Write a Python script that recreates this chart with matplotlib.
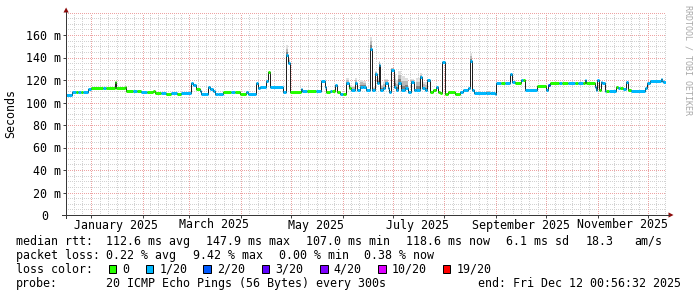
import numpy as np
import matplotlib
matplotlib.use("Agg")
import matplotlib.pyplot as plt
import matplotlib.dates as mdates
from matplotlib.patches import Rectangle, Polygon
from matplotlib.lines import Line2D
from matplotlib.transforms import ScaledTranslation
import datetime as dt

# ---------------- data ----------------
# start of each step, in days since 2025-01-01
seg_day = [-15.0, -11.4, -9.0, -7.8, -6.0, -4.8, -1.8, 0.0, 7.2, 9.0,
           14.4, 15.3, 20.4, 21.3, 25.2, 27.6, 30.0, 33.6, 37.2, 38.4,
           42.0, 45.0, 48.0, 51.6, 54.0, 60.2, 61.2, 62.8, 65.2, 66.2,
           70.2, 71.6, 73.2, 74.2, 76.2, 79.2, 84.0, 86.4, 89.2, 93.2,
           94.2, 98.8, 100.2, 101.4, 105.2, 106.2, 107.6, 115.2, 116.8, 118.2,
           119.6, 125.8, 126.8, 129.6, 135.0, 138.2, 140.2, 141.2, 143.2, 144.6,
           146.2, 147.6, 149.2, 151.2, 153.2, 154.8, 156.2, 158.2, 159.6, 161.2,
           163.2, 165.2, 167.2, 168.4, 170.2, 171.6, 172.6, 173.4, 175.2, 176.2,
           178.2, 178.8, 180.2, 181.6, 183.2, 184.2, 186.2, 188.2, 190.2, 192.2,
           193.6, 195.2, 197.2, 198.8, 200.2, 201.6, 203.2, 205.2, 207.2, 208.2,
           209.6, 210.8, 212.2, 214.2, 218.2, 221.2, 223.2, 226.2, 227.6, 228.8,
           229.8, 237.0, 239.4, 242.2, 243.2, 246.0, 248.4, 251.2, 252.4, 254.2,
           258.2, 259.2, 260.7, 267.6, 273.2, 274.2, 275.6, 280.8, 282.6, 286.2,
           290.2, 292.2, 295.2, 296.2, 297.2, 302.2, 303.2, 303.8, 304.8, 305.8,
           306.8, 308.2, 308.8, 310.8, 315.2, 316.2, 317.4, 319.2, 321.2, 322.4,
           324.2, 332.2, 333.6, 335.6, 342.0, 342.9, 343.2]
# median rtt (ms) of each step
median_ms = [107.0, 109.0, 109.6, 109.6, 109.6, 109.6, 111.7, 113.2, 113.2, 113.2,
             118.5, 113.0, 114.0, 110.5, 110.5, 110.5, 109.0, 109.0, 110.5, 108.7,
             108.7, 108.0, 108.5, 108.0, 108.5, 117.0, 116.0, 112.3, 110.0, 107.5,
             114.0, 112.2, 110.0, 108.0, 107.5, 109.0, 109.0, 109.0, 107.5, 109.0,
             108.0, 117.0, 112.5, 114.0, 119.4, 127.4, 114.0, 109.6, 142.0, 134.8,
             109.0, 112.4, 110.2, 110.2, 110.2, 119.4, 114.0, 109.0, 110.5, 110.5,
             116.0, 109.6, 108.0, 108.0, 117.0, 112.5, 111.0, 117.0, 111.0, 114.0,
             114.0, 111.0, 147.9, 111.0, 125.0, 117.3, 133.5, 111.0, 112.5, 117.3,
             112.5, 109.6, 129.3, 114.0, 111.0, 117.3, 111.0, 112.5, 109.6, 118.0,
             111.0, 111.0, 122.5, 112.5, 111.0, 120.0, 109.6, 111.0, 114.0, 109.6,
             108.4, 136.3, 108.0, 109.6, 108.0, 109.6, 111.0, 112.5, 137.0, 111.0,
             108.7, 108.7, 108.7, 108.0, 117.6, 117.6, 117.6, 125.3, 118.5, 117.3,
             120.0, 120.0, 111.0, 114.7, 111.0, 115.5, 117.6, 117.6, 117.6, 117.6,
             117.6, 117.6, 117.6, 120.3, 117.6, 114.0, 111.0, 120.3, 111.0, 118.5,
             117.6, 110.5, 110.5, 110.5, 114.0, 112.5, 112.5, 111.6, 118.5, 111.0,
             110.5, 113.0, 117.6, 119.4, 120.8, 119.4, 118.6]
# packet loss bucket of each step: 0 -> 0, 1 -> 1/20, 2 -> 2/20
loss_idx = [1, 1, 0, 1, 0, 1, 1, 0, 1, 0,
            0, 0, 0, 0, 1, 0, 1, 0, 0, 0,
            1, 0, 1, 0, 1, 1, 1, 0, 1, 1,
            1, 1, 1, 1, 1, 0, 1, 0, 0, 1,
            1, 1, 1, 1, 1, 0, 1, 1, 1, 1,
            0, 1, 1, 0, 1, 1, 1, 0, 1, 0,
            1, 0, 1, 0, 1, 0, 1, 1, 1, 1,
            1, 1, 1, 1, 1, 1, 1, 1, 1, 1,
            1, 1, 1, 1, 1, 1, 1, 1, 1, 1,
            1, 1, 1, 1, 1, 1, 0, 0, 1, 0,
            0, 1, 0, 0, 0, 1, 1, 1, 1, 1,
            1, 1, 1, 1, 1, 0, 1, 1, 1, 0,
            1, 0, 1, 0, 1, 2, 0, 1, 0, 1,
            0, 1, 0, 1, 0, 1, 1, 1, 0, 1,
            1, 1, 0, 1, 0, 1, 0, 1, 1, 0,
            1, 1, 1, 1, 1, 1, 1]
# top of the ping "smoke" (ms); 0 = no visible spread
smoke_top_ms = [0, 0, 0, 0, 0, 0, 0, 0, 0, 0,
                0, 0, 0, 0, 0, 0, 0, 0, 0, 0,
                0, 0, 0, 0, 0, 0, 0, 0, 0, 0,
                0, 0, 0, 0, 0, 0, 0, 0, 0, 0,
                0, 0, 0, 0, 0, 0, 0, 0, 151, 140,
                0, 0, 0, 0, 0, 0, 0, 0, 0, 0,
                0, 0, 0, 0, 122, 116, 115, 122, 0, 120,
                119, 0, 158, 114, 128, 122, 137, 116, 118, 121,
                118, 0, 131, 125, 120, 128, 124, 122, 0, 121,
                0, 122, 126, 118, 118, 121, 0, 0, 0, 0,
                0, 0, 0, 0, 0, 0, 0, 0, 143.7, 0,
                0, 110.5, 0, 0, 0, 0, 0, 0, 0, 0,
                0, 0, 0, 0, 0, 0, 0, 0, 0, 0,
                0, 0, 0, 0, 0, 0, 0, 0, 0, 0,
                0, 0, 0, 0, 0, 0, 0, 0, 0, 0,
                0, 0, 0, 0, 0, 0, 0]

graph_end = dt.datetime(2025, 12, 12, 0, 56, 32)
graph_days = 360
y_ticks = [0, 20, 40, 60, 80, 100, 120, 140, 160]
y_tick_labels = ["0", "20 m", "40 m", "60 m", "80 m", "100 m", "120 m", "140 m", "160 m"]
x_label_dates = [dt.datetime(2025, m, 16) for m in (1, 3, 5, 7, 9, 11)]
x_labels = ["January 2025", "March 2025", "May 2025", "July 2025",
            "September 2025", "November 2025"]
loss_colors = ["#26ff00", "#00b8ff", "#0059ff", "#5e00ff", "#7e00ff", "#dd00ff", "#ff0000"]
loss_names = ["0", "1/20", "2/20", "3/20", "4/20", "10/20", "19/20"]

stats_rtt = [("median rtt:", 15.5), ("112.6 ms avg", 106.5), ("147.9 ms max", 206.5),
             ("107.0 ms min", 306.5), ("118.6 ms now", 406.0), ("6.1 ms sd", 506.0),
             ("18.3", 585.3), ("am/s", 634.5)]
stats_loss = [("packet loss:", 15.5), ("0.22 % avg", 106.5), ("9.42 % max", 192.6),
              ("0.00 % min", 278.6), ("0.38 % now", 364.3)]
probe_line = [("probe:", 15.5), ("20 ICMP Echo Pings (56 Bytes) every 300s", 106.5),
              ("end: Fri Dec 12 00:56:32 2025", 477.6)]
loss_box_x = [108.7, 145.7, 203.3, 261.7, 320.0, 378.3, 442.7]
loss_text_x = [122.3, 159.3, 217.6, 275.3, 333.8, 392.0, 456.6]

# ---------------- figure ----------------
W, H, DPI = 697, 297, 100
FONT = "DejaVu Sans Mono"
FS = 8.4
PT = 72.0 / DPI          # points per pixel

fig = plt.figure(figsize=(W / DPI, H / DPI), dpi=DPI)
fig.patch.set_facecolor("white")


def P(x, y):
    return (x / W, 1 - y / H)


ax_l, ax_r, ax_b, ax_t = 66, 666, 215, 12.5
ax = fig.add_axes([ax_l / W, 1 - ax_b / H, (ax_r - ax_l) / W, (ax_b - ax_t) / H])
end_num = mdates.date2num(graph_end)
start_num = end_num - graph_days
ax.set_xlim(start_num, end_num)
ax.set_ylim(0, 180)
for s in ax.spines.values():
    s.set_visible(False)
ax.set_facecolor("white")

# grid
grid_minor = "#d2d2d2"
grid_major = "#eda3a3"
dots = (0, (PT, 2 * PT))
for v in range(5, 181, 5):
    if v % 20:
        ax.axhline(v, color=grid_minor, lw=PT, ls=dots, zorder=0, antialiased=False)
for v in range(20, 181, 20):
    ax.axhline(v, color=grid_major, lw=PT, ls=dots, zorder=0.5, antialiased=False)
months = [dt.datetime(2024, 12, 1)] + [dt.datetime(2025, m, 1) for m in range(1, 13)] \
    + [dt.datetime(2026, 1, 1)]
month_nums = [mdates.date2num(m) for m in months]
month_ticks = []
for a, b in zip(month_nums[:-1], month_nums[1:]):
    for k in range(1, 6):
        x = a + (b - a) * k / 6
        if start_num < x < end_num:
            ax.axvline(x, color=grid_minor, lw=PT, ls=dots, zorder=0, antialiased=False)
    if start_num < a < end_num:
        ax.axvline(a, color=grid_major, lw=PT, ls=dots, zorder=0.5, antialiased=False)
        month_ticks.append(a)

# ticks
ax.set_yticks(y_ticks)
ax.set_xticks(month_ticks)
ax.tick_params(axis="both", length=3 * PT, width=PT, color="#404040",
               direction="out", labelleft=False, labelbottom=False)

# data
base = mdates.date2num(dt.datetime(2025, 1, 1))
t0 = base + np.array(seg_day)
t1 = np.append(t0[1:], end_num)
med = np.array(median_ms)
smoke = np.array(smoke_top_ms, dtype=float)

for a, b, m, s in zip(t0, t1, med, smoke):
    if s > m:
        for frac, col in ((1.0, "#dedede"), (0.65, "#b8b8b8"), (0.3, "#808080")):
            top = m + (s - m) * frac
            ax.fill_between([a, b], [m, m], [top, top], color=col, lw=0, zorder=1)

ax.step(np.append(t0, end_num), np.append(med, med[-1]), where="post",
        color="#202020", lw=PT, zorder=2)
ax.hlines(med, t0, t1, colors=[loss_colors[i] for i in loss_idx], lw=3 * PT, zorder=3)

# tick labels
ytr = ax.get_yaxis_transform()
for v, lab in zip(y_ticks, y_tick_labels):
    off = -5 if lab.endswith("m") else -17.5
    ax.text(0, v, lab, transform=ytr + ScaledTranslation(off / DPI, 0, fig.dpi_scale_trans),
            ha="right", va="center_baseline", family=FONT, fontsize=FS, color="black")
xtr = ax.get_xaxis_transform()
for d, lab in zip(x_label_dates, x_labels):
    ax.text(mdates.date2num(d), 0, lab,
            transform=xtr + ScaledTranslation(0, -13.5 / DPI, fig.dpi_scale_trans),
            ha="center", va="baseline", family=FONT, fontsize=FS, color="black")

# axis lines and arrows
axis_col = "#383838"
arrow_col = "#8c0a0a"
fig.add_artist(Line2D([P(66, 218)[0], P(66, 12)[0]], [P(66, 218)[1], P(66, 12)[1]],
                      transform=fig.transFigure, color=axis_col, lw=PT))
fig.add_artist(Line2D([P(62, 215)[0], P(669, 215)[0]], [P(62, 215)[1], P(669, 215)[1]],
                      transform=fig.transFigure, color=axis_col, lw=PT))
fig.add_artist(Polygon([P(63.5, 12.5), P(68.7, 12.5), P(66.1, 7.5)], closed=True,
                       transform=fig.transFigure, color=arrow_col, lw=0))
fig.add_artist(Polygon([P(668.5, 212.4), P(668.5, 217.6), P(673.5, 215)], closed=True,
                       transform=fig.transFigure, color=arrow_col, lw=0))

# axis title and watermark
fig.text(*P(11, 114), "Seconds", rotation=90, ha="center", va="center",
         family=FONT, fontsize=FS, color="black")
fig.text(*P(688, 5), "RRDTOOL / TOBI OETIKER", rotation=270, ha="center", va="top",
         family=FONT, fontsize=6.0, color="#a8a8a8")

# legend / statistics
for s, x in stats_rtt:
    fig.text(*P(x, 245), s, ha="left", va="baseline", family=FONT, fontsize=FS)
for s, x in stats_loss:
    fig.text(*P(x, 259), s, ha="left", va="baseline", family=FONT, fontsize=FS)
fig.text(*P(15.5, 273), "loss color:", ha="left", va="baseline", family=FONT, fontsize=FS)
for col, name, bx, tx in zip(loss_colors, loss_names, loss_box_x, loss_text_x):
    fig.add_artist(Rectangle(P(bx, 273), 7.5 / W, 8.5 / H, transform=fig.transFigure,
                             facecolor=col, edgecolor="black", lw=PT))
    fig.text(*P(tx, 273), name, ha="left", va="baseline", family=FONT, fontsize=FS)
for s, x in probe_line:
    fig.text(*P(x, 287), s, ha="left", va="baseline", family=FONT, fontsize=FS)

fig.savefig("out.png", dpi=DPI, facecolor="white")
